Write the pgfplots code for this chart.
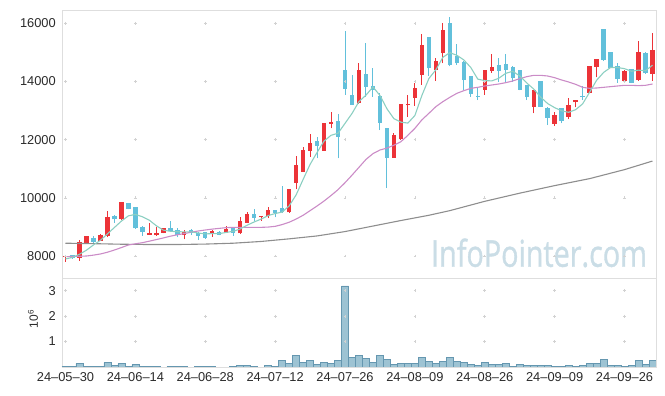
\documentclass[border=0pt]{standalone}
\usepackage{fontspec}
\setmainfont{Liberation Sans}
\newfontfamily\wmfont[FakeBold=1.2]{Open Sans}
\usepackage{pgfplots}
\usepackage{pgfplotstable}
\pgfplotsset{compat=1.18}

\definecolor{upc}{HTML}{EC3338}
\definecolor{dnc}{HTML}{62C0DB}
\definecolor{maA}{HTML}{8CCFC2}
\definecolor{maB}{HTML}{CB8CC7}
\definecolor{maC}{HTML}{8E8E8E}
\definecolor{volfill}{HTML}{9DC3D3}
\definecolor{voledge}{HTML}{6597B0}
\definecolor{framec}{HTML}{DEDEDE}
\definecolor{gridc}{HTML}{D2D2D2}
\definecolor{tickc}{HTML}{2A2A2A}
\definecolor{wm}{HTML}{CADDE6}

% up candles (red): i open high low close
\pgfplotstableread{
i o h l c
0 7960 8020 7810 8005
2 7930 8550 7840 8490
3 8460 8700 8450 8690
5 8530 8745 8510 8720
6 8700 9555 8640 9350
8 9260 9870 9250 9850
12 8730 9150 8720 8800
13 8710 8990 8700 8780
14 8800 8960 8780 8950
17 8720 8890 8570 8840
21 8780 8900 8660 8850
23 8800 9030 8790 8920
25 8780 9350 8770 9200
26 9150 9510 9130 9440
28 9330 9390 9210 9380
29 9390 9670 9300 9580
32 9500 10310 9480 10290
33 10520 11440 10290 11130
34 10900 11740 10880 11640
35 11620 12180 11420 11880
37 11620 12570 11610 12560
38 12550 12960 12390 12600
42 13250 14620 13240 14390
47 11380 12240 11370 12150
48 12010 13220 12000 13210
49 13180 13530 12790 13225
50 13445 13940 13160 13780
51 14220 15630 13880 15250
53 14390 14820 14020 14710
54 14970 16000 14620 15770
60 13710 14400 13540 14390
61 14370 14940 14300 14510
67 13130 13720 12900 13710
70 12540 12940 12480 12850
72 12790 13420 12700 13190
73 13280 13370 13110 13360
75 13620 14540 13600 14530
76 14510 14770 14140 14760
80 14020 14380 14000 14370
82 14050 15400 14020 15025
84 14260 15655 14030 15080
}\upc

% down candles (blue): i open high low close
\pgfplotstableread{
i o h l c
1 8030 8040 7900 7920
4 8630 8690 8435 8490
7 9375 9410 9146 9260
9 9810 9820 9600 9626
10 9696 9700 8940 8952
11 9010 9020 8688 8825
15 8960 9210 8830 8850
16 8890 8950 8640 8720
18 8900 8920 8720 8780
19 8800 8820 8550 8690
20 8810 8830 8590 8620
22 8830 8850 8710 8730
24 8952 8960 8690 8800
27 9430 9620 9210 9310
30 9570 9580 9330 9490
31 9640 10390 9470 9530
36 11950 12100 11360 11790
39 12640 12880 11360 12100
40 14395 15735 13535 13745
41 13535 14220 13190 13195
43 14257 15312 13480 13822
44 13845 14452 13480 13707
45 13500 13590 12330 12583
46 12390 12400 10330 11381
52 15520 15540 14190 14450
55 16020 16220 14520 14570
56 14880 15280 14570 14620
57 14680 14700 13700 14050
58 14190 14200 13480 13570
59 13510 13800 13360 13470
62 14560 14800 13990 14370
63 14600 14940 13990 14390
64 14510 14530 13990 14110
65 14390 14400 13690 13710
66 13880 13890 13360 13480
68 14020 14030 13120 13130
69 13100 13110 12500 12760
71 13080 13090 12560 12650
74 13500 13860 13360 13460
77 15800 15820 14700 14740
78 15000 15010 14460 14475
79 14540 14620 13960 14085
81 14418 14430 13940 13959
83 14991 15000 14270 14280
}\dnc

\pgfplotstableread{
i v
0 7900
1 7950
2 8060
3 8200
4 8380
5 8540
6 8760
7 8980
8 9200
9 9380
10 9430
11 9350
12 9230
13 9040
14 8890
15 8850
16 8835
17 8830
18 8830
19 8790
20 8760
21 8770
22 8770
23 8810
24 8850
25 8930
26 9060
27 9170
28 9270
29 9390
30 9460
31 9510
32 9720
33 10100
34 10630
35 11150
36 11560
37 11950
38 12150
39 12220
40 12560
41 12900
42 13310
43 13530
44 13810
45 13520
46 13060
47 12720
48 12600
49 12570
50 12830
51 13520
52 14100
53 14400
54 14830
55 14990
56 14900
57 14740
58 14480
59 14080
60 14030
61 14020
62 14110
63 14280
64 14350
65 14190
66 13950
67 13740
68 13460
69 13240
70 13100
71 12990
72 12940
73 13030
74 13230
75 13630
76 14040
77 14310
78 14480
79 14480
80 14440
81 14350
82 14390
83 14370
84 14560
}\maAt

\pgfplotstableread{
i v
0 7977
1 7985
2 7990
3 8000
4 8030
5 8070
6 8130
7 8206
8 8290
9 8378
10 8420
11 8458
12 8510
13 8565
14 8620
15 8680
16 8730
17 8770
18 8820
19 8860
20 8894
21 8925
22 8950
23 8975
24 8985
25 8985
26 8982
27 8982
28 8985
29 8995
30 9020
31 9080
32 9160
33 9270
34 9400
35 9560
36 9720
37 9890
38 10080
39 10280
40 10520
41 10780
42 11050
43 11320
44 11520
45 11644
46 11710
47 11810
48 11930
49 12150
50 12389
51 12680
52 12905
53 13134
54 13306
55 13455
56 13592
57 13684
58 13764
59 13799
60 13845
61 13879
62 13913
63 13959
64 14017
65 14097
66 14165
67 14211
68 14211
69 14188
70 14131
71 14051
72 13982
73 13902
74 13799
75 13764
76 13776
77 13799
78 13822
79 13845
80 13868
81 13868
82 13856
83 13868
84 13913
}\maBt

\pgfplotstableread{
i v
0 8440
4 8425
8 8405
12 8395
16 8395
20 8410
24 8440
28 8500
32 8590
36 8690
40 8840
44 9030
48 9220
52 9400
55 9560
60 9880
65 10160
70 10420
75 10660
80 10970
84 11265
}\maCt

\pgfplotstableread{
i v
0 0.026
1 0.026
2 0.13
3 0.026
4 0.026
5 0.026
6 0.17
7 0.066
8 0.13
9 0.026
10 0.092
11 0.026
12 0.026
13 0.026
14 0
15 0.026
16 0.026
17 0.026
18 0
19 0.026
20 0.026
21 0.026
22 0
23 0
24 0.026
25 0.066
26 0.066
27 0.026
28 0
29 0.066
30 0.026
31 0.26
32 0.13
33 0.45
34 0.17
35 0.26
36 0.10
37 0.17
38 0.13
39 0.26
40 3.19
41 0.37
42 0.45
43 0.33
44 0.17
45 0.45
46 0.29
47 0.092
48 0.13
49 0.13
50 0.13
51 0.37
52 0.22
53 0.13
54 0.22
55 0.37
56 0.22
57 0.17
58 0.092
59 0.05
60 0.17
61 0.092
62 0.092
63 0.13
64 0.026
65 0.092
66 0.05
67 0.05
68 0.05
69 0.05
70 0.013
71 0.013
72 0.05
73 0.013
74 0.05
75 0.13
76 0.13
77 0.29
78 0.05
79 0.05
80 0.013
81 0.05
82 0.26
83 0.092
84 0.26
}\volt

\pgfplotsset{
  common/.style={
    scale only axis, width=594bp, xmin=-0.5, xmax=84.5,
    axis line style={draw=framec, line width=0.8bp},
    major tick length=0pt,
    scaled y ticks=false,
    tick label style={font=\fontsize{12.9}{14}\selectfont, text=tickc},
    /pgf/number format/assume math mode=true,
    /pgf/number format/1000 sep={},
    yticklabel style={anchor=east, inner sep=0pt, xshift=-6bp},
    xticklabel style={anchor=north, inner sep=0pt, yshift=-5bp},
    xtick={0,10,...,80},
  },
  candle/.style={draw=none, no marks, forget plot,
    error bars/.cd, y dir=plus, y explicit, error mark=none},
}

\begin{document}
\begin{tikzpicture}
\path[use as bounding box] (0,0) rectangle (665bp,396bp);

% ---------- price panel ----------
\begin{axis}[common, at={(62bp,118bp)}, anchor=south west, height=268bp,
  ymin=7244, ymax=16457, ytick={8000,10000,12000,14000,16000},
  xticklabels={}]
\node[anchor=base east, text=wm, font=\wmfont\fontsize{37}{40}\selectfont,
  xscale=0.78, inner sep=0pt] at (rel axis cs:0.985,0.042) {InfoPointer.com};
\addplot[only marks, mark=+, mark size=1.4bp, mark options={draw=gridc, line width=0.6bp}, forget plot] coordinates {
(0,8000)(10,8000)(20,8000)(30,8000)(40,8000)(50,8000)(60,8000)(70,8000)(80,8000)
(0,10000)(10,10000)(20,10000)(30,10000)(40,10000)(50,10000)(60,10000)(70,10000)(80,10000)
(0,12000)(10,12000)(20,12000)(30,12000)(40,12000)(50,12000)(60,12000)(70,12000)(80,12000)
(0,14000)(10,14000)(20,14000)(30,14000)(40,14000)(50,14000)(60,14000)(70,14000)(80,14000)
(0,16000)(10,16000)(20,16000)(30,16000)(40,16000)(50,16000)(60,16000)(70,16000)(80,16000)
};
% wicks
\addplot[candle, error bar style={line width=1bp, draw=upc}] table[x=i, y=l, y error expr=\thisrow{h}-\thisrow{l}] {\upc};
\addplot[candle, error bar style={line width=1bp, draw=dnc}] table[x=i, y=l, y error expr=\thisrow{h}-\thisrow{l}] {\dnc};
% bodies
\addplot[candle, error bar style={line width=4.4bp, draw=upc}] table[x=i, y=o, y error expr=\thisrow{c}-\thisrow{o}] {\upc};
\addplot[candle, error bar style={line width=4.4bp, draw=dnc}] table[x=i, y=c, y error expr=\thisrow{o}-\thisrow{c}] {\dnc};
% moving averages
\addplot[maC, line width=1.1bp, no marks] table[x=i, y=v] {\maCt};
\addplot[maB, line width=1.1bp, no marks] table[x=i, y=v] {\maBt};
\addplot[maA, line width=1.1bp, no marks] table[x=i, y=v] {\maAt};
\end{axis}

% ---------- volume panel ----------
\begin{axis}[common, at={(62bp,29bp)}, anchor=south west, height=89bp,
  ymin=0, ymax=3.5, ytick={1,2,3},
  xticklabels={24–05–30,24–06–14,24–06–28,24–07–12,24–07–26,24–08–09,24–08–26,24–09–09,24–09–26},
  ylabel={10\textsuperscript{6}},
  ylabel style={at={(axis description cs:-0.0488,0.54)}, anchor=center, inner sep=0pt,
    font=\fontsize{12}{14}\selectfont, text=tickc}]
\addplot[only marks, mark=+, mark size=1.4bp, mark options={draw=gridc, line width=0.6bp}, forget plot] coordinates {
(0,1)(10,1)(20,1)(30,1)(40,1)(50,1)(60,1)(70,1)(80,1)
(0,2)(10,2)(20,2)(30,2)(40,2)(50,2)(60,2)(70,2)(80,2)
(0,3)(10,3)(20,3)(30,3)(40,3)(50,3)(60,3)(70,3)(80,3)
};
\addplot[ybar, bar width=1, fill=volfill, draw=voledge, line width=0.6bp] table[x=i, y=v] {\volt};
\end{axis}
\end{tikzpicture}
\end{document}
